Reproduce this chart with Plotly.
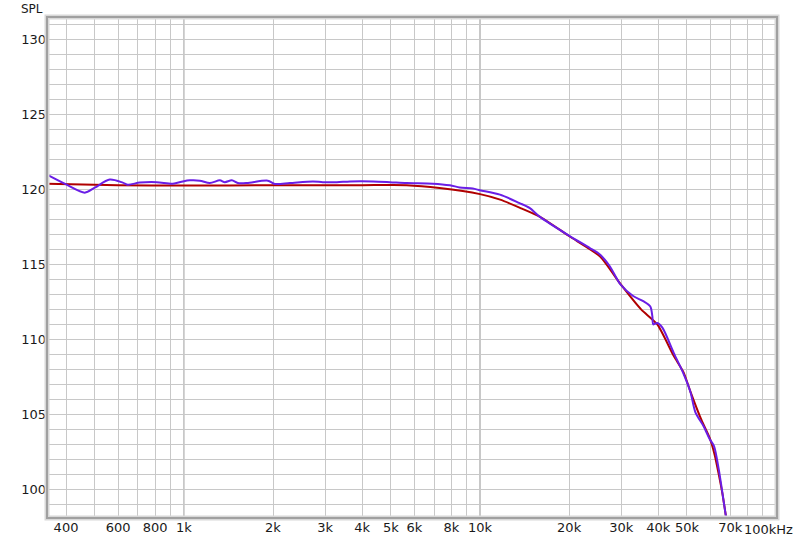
import numpy as np
import plotly.graph_objects as go

# ---- data ----
freq_red = [345, 600, 1000, 2000, 4000, 5650, 7300, 10000, 11700, 13600, 15900, 20100,
            25400, 29800, 35000, 39700, 45100, 48700, 51400, 56000, 59700, 62000,
            64000, 66000, 67800, 70000]
spl_red = [120.4, 120.3, 120.27, 120.3, 120.3, 120.3, 120.11, 119.7, 119.33, 118.8, 118.2, 116.87,
           115.55, 113.7, 112.0, 111.0, 108.9, 107.8, 106.5, 104.6, 103.4, 102.3,
           101.0, 99.6, 98.1, 96.5]

freq_purple = [345, 402, 463, 500, 562, 622, 647, 710, 810, 918, 992, 1048, 1132, 1224, 1323,
               1375, 1452, 1521, 1632, 1921, 2029, 2279, 2727, 2947, 3286, 3640, 4355, 4964,
               5651, 6930, 7917, 8545, 9455, 10000, 11680, 13600, 14700, 15900, 20100, 23500,
               25400, 27400, 29800, 32900, 35600, 37600, 38200, 38500, 39700, 41300, 45100,
               48700, 51400, 53400, 56900, 59700, 61700, 64000, 67800, 70000]
spl_purple = [121.0, 120.33, 119.8, 120.13, 120.67, 120.47, 120.33, 120.47, 120.5, 120.4, 120.55,
              120.62, 120.6, 120.44, 120.62, 120.5, 120.62, 120.44, 120.44, 120.6, 120.38, 120.44,
              120.55, 120.5, 120.5, 120.55, 120.55, 120.5, 120.44, 120.4, 120.29, 120.15, 120.07,
              119.96, 119.67, 119.1, 118.78, 118.2, 116.9, 116.1, 115.67, 114.9, 113.67, 112.9,
              112.55, 112.2, 111.55, 111.0, 111.1, 110.78, 109.1, 107.7, 106.47, 105.13, 104.2,
              103.33, 102.87, 101.33, 98.1, 96.5]

x_grid = [400, 500, 600, 700, 800, 900, 1000, 2000, 3000, 4000, 5000, 6000, 7000, 8000, 9000,
          10000, 20000, 30000, 40000, 50000, 60000, 70000, 80000, 90000]
x_labels = {400: "400", 600: "600", 800: "800", 1000: "1k", 2000: "2k", 3000: "3k", 4000: "4k",
            5000: "5k", 6000: "6k", 8000: "8k", 10000: "10k", 20000: "20k", 30000: "30k",
            40000: "40k", 50000: "50k", 70000: "70k"}
last_label = "100kHz"
y_grid = list(range(99, 132))
y_labels = [100, 105, 110, 115, 120, 125, 130]

fig = go.Figure()
fig.add_trace(go.Scatter(x=freq_red, y=spl_red, mode="lines",
                         line=dict(color="#b00000", width=2, shape="spline", smoothing=0.6)))
fig.add_trace(go.Scatter(x=freq_purple, y=spl_purple, mode="lines",
                         line=dict(color="#6a1ee6", width=2, shape="spline", smoothing=0.8)))

font = dict(family="DejaVu Sans", size=13, color="#1a1a1a")
fig.update_layout(
    width=800, height=541,
    margin=dict(l=47, r=23, t=17, b=23, autoexpand=False),
    paper_bgcolor="white", plot_bgcolor="white",
    showlegend=False, font=font,
    xaxis=dict(type="log", range=[np.log10(345), np.log10(100700)], automargin=False,
               tickvals=x_grid, ticktext=[x_labels.get(v, "") for v in x_grid],
               showgrid=True, gridcolor="#c8c8c8", gridwidth=1, zeroline=False,
               ticks="", showline=False, tickfont=font),
    yaxis=dict(range=[98.07, 131.53], tickvals=y_grid, automargin=False,
               ticktext=[str(v) if v in y_labels else "" for v in y_grid],
               showgrid=True, gridcolor="#c8c8c8", gridwidth=1, zeroline=False,
               ticks="", showline=False, tickfont=font),
)
for fx in (1000, 10000):
    fig.add_shape(type="line", xref="x", yref="paper", x0=fx, x1=fx, y0=0, y1=1,
                  line=dict(color="#8a8a8a", width=1), layer="below")
# frame with soft shadow
fig.add_shape(type="rect", xref="paper", yref="paper", x0=0, x1=1, y0=0, y1=1,
              line=dict(color="#d8d8d8", width=5), layer="above")
fig.add_shape(type="rect", xref="paper", yref="paper", x0=0, x1=1, y0=0, y1=1,
              line=dict(color="#a0a0a0", width=2), layer="above")
fig.add_annotation(xref="paper", yref="paper", x=1.0, y=0, yshift=-11, xshift=18,
                   text=last_label, showarrow=False, xanchor="right", yanchor="middle", font=font)
fig.add_annotation(xref="paper", yref="paper", x=0, y=1, xshift=-2, yshift=8,
                   text="SPL", showarrow=False, xanchor="right", yanchor="middle",
                   font=dict(family="DejaVu Sans", size=12, color="#1a1a1a"))
fig.write_html("out.html", config={"displayModeBar": False},
               post_script="document.body.style.margin='0';document.body.style.overflow='hidden';")
